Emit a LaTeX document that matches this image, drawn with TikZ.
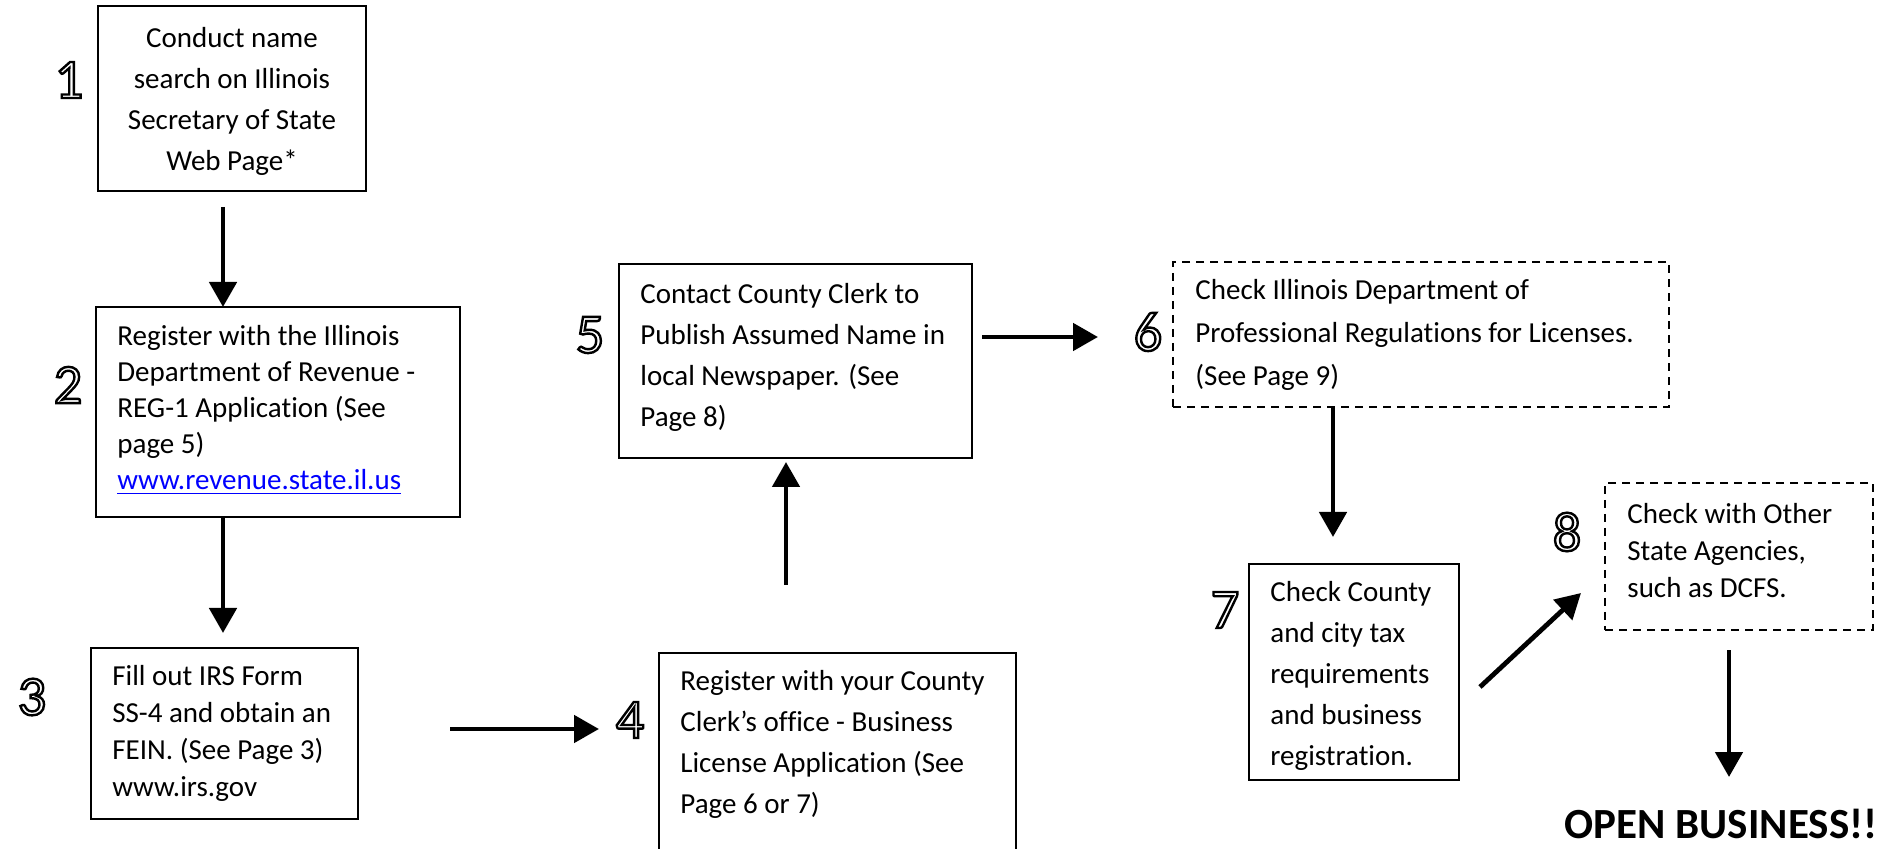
\documentclass[tikz,border=0pt]{standalone}
\usepackage{fontspec}
\setmainfont{Carlito}[Ligatures={NoCommon,NoContextual}]
\usetikzlibrary{arrows.meta}
\definecolor{linkblue}{RGB}{0,0,255}
\newcommand\outdigit[3]{%
  \node[digit] (#1) at (#2) {\special{pdf:literal direct 1 Tr 1.2 w}#3\special{pdf:literal direct 0 Tr}};
}
\begin{document}
\begin{tikzpicture}[x=0.5pt,y=-0.5pt,
  box/.style={draw, line width=1pt, anchor=north west, inner sep=0pt, outer sep=0pt},
  dbox/.style={box, line width=0.8pt, dash pattern=on 4pt off 3pt},
  txt/.style={inner sep=0pt, anchor=west, align=left},
  digit/.style={inner sep=0pt, font=\fontsize{28pt}{30pt}\selectfont},
  arr/.style={line width=2.4pt, -{Triangle[length=12.5pt,width=13.5pt]}},
]
\useasboundingbox (0,0) rectangle (1890,849);

% boxes
\node[box, minimum width=134pt, minimum height=92.5pt] (b1) at (98,6) {};
\node[box, minimum width=182pt, minimum height=105pt] (b2) at (96,307) {};
\node[box, minimum width=133.5pt, minimum height=85.5pt] (b3) at (91,648) {};
\node[box, minimum width=178.5pt, minimum height=115pt] (b4) at (659,653) {};
\node[box, minimum width=176.5pt, minimum height=97pt] (b5) at (619,264) {};
\node[dbox, minimum width=248pt, minimum height=72.5pt] (b6) at (1173,262) {};
\node[box, minimum width=105pt, minimum height=108pt] (b7) at (1249,564) {};
\node[dbox, minimum width=134pt, minimum height=73.5pt] (b8) at (1605,483) {};

% texts
\node[inner sep=0pt, align=center, font=\fontsize{14.5pt}{20.5pt}\selectfont] (t1) at (232,101)
  {Conduct name\\search on Illinois\\Secretary of State\\Web Page*};
\node[txt, font=\fontsize{14.5pt}{18pt}\selectfont] (t2) at (117,410)
  {Register with the Illinois\\Department of Revenue -\\REG-1 Application (See\\page 5)\\\textcolor{linkblue}{\underline{www.revenue.state.il.us}}};
\node[txt, font=\fontsize{14.5pt}{18.5pt}\selectfont] (t3) at (112,733)
  {Fill out IRS Form\\SS-4 and obtain an\\FEIN. (See Page 3)\\www.irs.gov};
\node[txt, font=\fontsize{14.5pt}{20.5pt}\selectfont] (t4) at (680,744)
  {Register with your County\\Clerk’s office - Business\\License Application (See\\Page 6 or 7)};
\node[txt, font=\fontsize{14.5pt}{20.5pt}\selectfont] (t5) at (640,357)
  {Contact County Clerk to\\Publish Assumed Name in\\local Newspaper. (See\\Page 8)};
\node[txt, font=\fontsize{14.5pt}{21.5pt}\selectfont] (t6) at (1195,335)
  {Check Illinois Department of\\Professional Regulations for Licenses.\\(See Page 9)};
\node[txt, font=\fontsize{14.5pt}{20.5pt}\selectfont] (t7) at (1270,676)
  {Check County\\and city tax\\requirements\\and business\\registration.};
\node[txt, font=\fontsize{14.5pt}{18.5pt}\selectfont] (t8) at (1627,551)
  {Check with Other\\State Agencies,\\such as DCFS.};
\node[inner sep=0pt, anchor=base, font=\fontsize{21.5pt}{24pt}\selectfont\bfseries] (open) at (1721,838)
  {OPEN BUSINESS!!};

% digits
\outdigit{d1}{69,80}{1}
\outdigit{d2}{68,385}{2}
\outdigit{d3}{32,697}{3}
\outdigit{d4}{630,720}{4}
\outdigit{d5}{590,335}{5}
\outdigit{d6}{1148,332}{6}
\outdigit{d7}{1225,610}{7}
\outdigit{d8}{1567,532}{8}

% connectors
\coordinate (s12) at (223,207);
\draw[arr] (s12) -- (s12 |- b2.north);
\coordinate (t23) at (223,633);
\draw[arr] (t23 |- b2.south) -- (t23);
\coordinate (s34) at (450,729);
\coordinate (t34) at (599,729);
\draw[arr] (s34) -- (t34);
\coordinate (s45) at (786,585);
\draw[arr] (s45) -- ([yshift=-2pt]s45 |- b5.south);
\coordinate (s56) at (982,337);
\coordinate (t56) at (1098,337);
\draw[arr] (s56) -- (t56);
\coordinate (t67) at (1333,537);
\draw[arr] (t67 |- b6.south) -- (t67);
\coordinate (s78) at (1480,687);
\coordinate (t78) at (1581,593);
\draw[arr] (s78) -- (t78);
\coordinate (s8o) at (1729,650);
\coordinate (t8o) at (1729,777);
\draw[arr] (s8o) -- (t8o);
\end{tikzpicture}
\end{document}
